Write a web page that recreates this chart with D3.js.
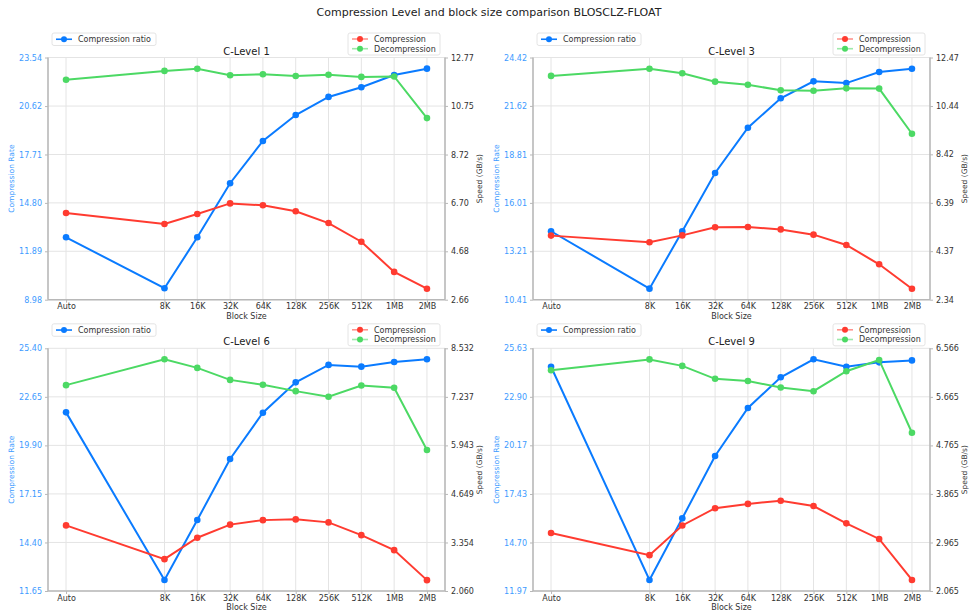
<!DOCTYPE html>
<html>
<head>
<meta charset="utf-8">
<script src="https://cdn.jsdelivr.net/npm/d3@7"></script>
<style>
  body { margin: 0; background: #fff; }
  svg { font-family: "DejaVu Sans", sans-serif; }
</style>
</head>
<body>
<svg id="chart" width="973" height="612"></svg>
<script>
const blockSizes = ['Auto', '8K', '16K', '32K', '64K', '128K', '256K', '512K', '1MB', '2MB'];
// position on the x axis (Auto sits 3 steps before 8K)
const blockPos = [0, 3, 4, 5, 6, 7, 8, 9, 10, 11];

const levels = ['C-Level 1', 'C-Level 3', 'C-Level 6', 'C-Level 9'];

const ratioL1 = [12.73, 9.67, 12.73, 15.98, 18.52, 20.08, 21.17, 21.75, 22.49, 22.87];
const compL1 = [6.28, 5.82, 6.24, 6.68, 6.60, 6.35, 5.86, 5.08, 3.82, 3.12];
const decompL1 = [11.84, 12.21, 12.30, 12.03, 12.07, 12.00, 12.05, 11.96, 11.98, 10.24];

const ratioL3 = [14.37, 11.05, 14.37, 17.74, 20.36, 22.06, 23.04, 22.94, 23.58, 23.77];
const compL3 = [5.02, 4.74, 5.03, 5.37, 5.38, 5.28, 5.06, 4.63, 3.82, 2.80];
const decompL3 = [11.70, 12.00, 11.81, 11.46, 11.33, 11.10, 11.08, 11.18, 11.17, 9.28];

const ratioL6 = [21.77, 12.27, 15.67, 19.13, 21.75, 23.47, 24.46, 24.36, 24.62, 24.78];
const compL6 = [3.81, 2.91, 3.48, 3.83, 3.95, 3.97, 3.89, 3.55, 3.15, 2.35];
const decompL6 = [7.55, 8.24, 8.01, 7.69, 7.56, 7.39, 7.24, 7.54, 7.48, 5.82];

const ratioL9 = [24.59, 12.59, 16.06, 19.57, 22.27, 24.00, 25.01, 24.59, 24.84, 24.95];
const compL9 = [3.14, 2.73, 3.28, 3.60, 3.68, 3.74, 3.64, 3.32, 3.03, 2.27];
const decompL9 = [6.16, 6.36, 6.24, 6.00, 5.96, 5.84, 5.77, 6.14, 6.35, 5.00];

const ratioTicks = [
  ['8.98', '11.89', '14.80', '17.71', '20.62', '23.54'],
  ['10.41', '13.21', '16.01', '18.81', '21.62', '24.42'],
  ['11.65', '14.40', '17.15', '19.90', '22.65', '25.40'],
  ['11.97', '14.70', '17.43', '20.17', '22.90', '25.63'],
];
const speedTicks = [
  ['2.66', '4.68', '6.70', '8.72', '10.75', '12.77'],
  ['2.34', '4.37', '6.39', '8.42', '10.44', '12.47'],
  ['2.060', '3.354', '4.649', '5.943', '7.237', '8.532'],
  ['2.065', '2.965', '3.865', '4.765', '5.665', '6.566'],
];

const ratios = [ratioL1, ratioL3, ratioL6, ratioL9];
const comps = [compL1, compL3, compL6, compL9];
const decomps = [decompL1, decompL3, decompL6, decompL9];

const BLUE = '#0a7bff';
const RED = '#ff3b30';
const GREEN = '#4cd964';
const TICKBLUE = '#3d9bff';
const SPINE = '#b8b8b8';
const GRID = '#e4e4e4';

const svg = d3.select('#chart');

svg.append('text')
  .attr('x', 489).attr('y', 16)
  .attr('text-anchor', 'middle')
  .style('font-size', '11px')
  .attr('fill', '#222')
  .text('Compression Level and block size comparison BLOSCLZ-FLOAT');

const panels = [
  { x0: 48, x1: 445, y0: 57.5, y1: 299.7 },
  { x0: 533, x1: 930, y0: 57.5, y1: 299.7 },
  { x0: 48, x1: 445, y0: 348.3, y1: 591 },
  { x0: 533, x1: 930, y0: 348.3, y1: 591 },
];

function drawPanel(i) {
  const p = panels[i];
  const g = svg.append('g');

  const x = d3.scaleLinear().domain([-0.55, 11.55]).range([p.x0, p.x1]);
  const rt = ratioTicks[i].map(Number);
  const st = speedTicks[i].map(Number);
  const yL = d3.scaleLinear().domain([rt[0], rt[rt.length - 1]]).range([p.y1, p.y0]);
  const yR = d3.scaleLinear().domain([st[0], st[st.length - 1]]).range([p.y1, p.y0]);

  // grid
  g.append('g').selectAll('line').data(blockPos).join('line')
    .attr('x1', (d) => x(d)).attr('x2', (d) => x(d))
    .attr('y1', p.y0).attr('y2', p.y1)
    .attr('stroke', GRID).attr('stroke-width', 1);
  g.append('g').selectAll('line').data(rt).join('line')
    .attr('x1', p.x0).attr('x2', p.x1)
    .attr('y1', (d) => yL(d)).attr('y2', (d) => yL(d))
    .attr('stroke', GRID).attr('stroke-width', 1);

  // spines
  g.append('line').attr('x1', p.x0).attr('x2', p.x0).attr('y1', p.y0).attr('y2', p.y1)
    .attr('stroke', SPINE).attr('stroke-width', 1.6);
  g.append('line').attr('x1', p.x1).attr('x2', p.x1).attr('y1', p.y0).attr('y2', p.y1)
    .attr('stroke', SPINE).attr('stroke-width', 1.6);
  g.append('line').attr('x1', p.x0).attr('x2', p.x1).attr('y1', p.y1).attr('y2', p.y1)
    .attr('stroke', SPINE).attr('stroke-width', 1.6);

  // axes
  const xAxis = d3.axisBottom(x).tickValues(blockPos)
    .tickFormat((d, k) => blockSizes[k]).tickSize(3).tickPadding(1);
  const gx = g.append('g').attr('transform', `translate(0,${p.y1})`).call(xAxis);
  gx.select('.domain').remove();
  gx.selectAll('line').attr('stroke', SPINE);
  gx.selectAll('text').attr('fill', '#333').style('font-size', '8px').attr('font-family', 'DejaVu Sans');

  const yAxisL = d3.axisLeft(yL).tickValues(rt).tickFormat((d, k) => ratioTicks[i][k]).tickSize(3).tickPadding(3);
  const gl = g.append('g').attr('transform', `translate(${p.x0},0)`).call(yAxisL);
  gl.select('.domain').remove();
  gl.selectAll('line').attr('stroke', SPINE);
  gl.selectAll('text').attr('fill', TICKBLUE).style('font-size', '8px').attr('font-family', 'DejaVu Sans');

  const yAxisR = d3.axisRight(yR).tickValues(st).tickFormat((d, k) => speedTicks[i][k]).tickSize(3).tickPadding(3);
  const gr = g.append('g').attr('transform', `translate(${p.x1},0)`).call(yAxisR);
  gr.select('.domain').remove();
  gr.selectAll('line').attr('stroke', SPINE);
  gr.selectAll('text').attr('fill', '#333').style('font-size', '8px').attr('font-family', 'DejaVu Sans');

  // axis labels
  const cy = (p.y0 + p.y1) / 2;
  g.append('text')
    .attr('transform', `translate(${p.x0 - 34},${cy}) rotate(-90)`)
    .attr('text-anchor', 'middle')
    .attr('fill', TICKBLUE).style('font-size', '7.5px')
    .text('Compression Rate');
  g.append('text')
    .attr('transform', `translate(${p.x1 + 37},${cy}) rotate(-90)`)
    .attr('text-anchor', 'middle')
    .attr('fill', '#333').style('font-size', '7.5px')
    .text('Speed (GB/s)');
  g.append('text')
    .attr('x', (p.x0 + p.x1) / 2).attr('y', p.y1 + 19)
    .attr('text-anchor', 'middle')
    .attr('fill', '#333').style('font-size', '8px')
    .text('Block Size');
  g.append('text')
    .attr('x', (p.x0 + p.x1) / 2).attr('y', p.y0 - 3)
    .attr('text-anchor', 'middle')
    .attr('fill', '#222').style('font-size', '10px')
    .text(levels[i]);

  // series
  const series = [
    { vals: ratios[i], y: yL, color: BLUE },
    { vals: comps[i], y: yR, color: RED },
    { vals: decomps[i], y: yR, color: GREEN },
  ];
  series.forEach((s) => {
    const pts = s.vals.map((v, k) => [x(blockPos[k]), s.y(v)]);
    g.append('path')
      .attr('d', d3.line()(pts))
      .attr('fill', 'none')
      .attr('stroke', s.color)
      .attr('stroke-width', 2);
    g.append('g').selectAll('circle').data(pts).join('circle')
      .attr('cx', (d) => d[0]).attr('cy', (d) => d[1])
      .attr('r', 3.3).attr('fill', s.color);
  });

  // legends
  const lg = g.append('g').attr('transform', `translate(${p.x0 + 4},${p.y0 - 24.5})`);
  lg.append('rect').attr('width', 104).attr('height', 12.5).attr('rx', 2)
    .attr('fill', '#fff').attr('stroke', '#ddd').attr('stroke-width', 0.8);
  lg.append('line').attr('x1', 4).attr('x2', 20).attr('y1', 6.25).attr('y2', 6.25)
    .attr('stroke', BLUE).attr('stroke-width', 1.6);
  lg.append('circle').attr('cx', 12).attr('cy', 6.25).attr('r', 3).attr('fill', BLUE);
  lg.append('text').attr('x', 26).attr('y', 9.2).attr('fill', '#333')
    .style('font-size', '8px').text('Compression ratio');

  const rg = g.append('g').attr('transform', `translate(${p.x1 - 97},${p.y0 - 24.5})`);
  rg.append('rect').attr('width', 92).attr('height', 22).attr('rx', 2)
    .attr('fill', '#fff').attr('stroke', '#ddd').attr('stroke-width', 0.8);
  [['Compression', RED], ['Decompression', GREEN]].forEach(([label, color], k) => {
    const yy = 6 + k * 9.7;
    rg.append('line').attr('x1', 4).attr('x2', 20).attr('y1', yy).attr('y2', yy)
      .attr('stroke', color).attr('stroke-opacity', 0.55).attr('stroke-width', 1.6);
    rg.append('circle').attr('cx', 12).attr('cy', yy).attr('r', 3).attr('fill', color);
    rg.append('text').attr('x', 26).attr('y', yy + 3).attr('fill', '#333')
      .style('font-size', '8px').text(label);
  });
}

levels.forEach((_, i) => drawPanel(i));
</script>
</body>
</html>
